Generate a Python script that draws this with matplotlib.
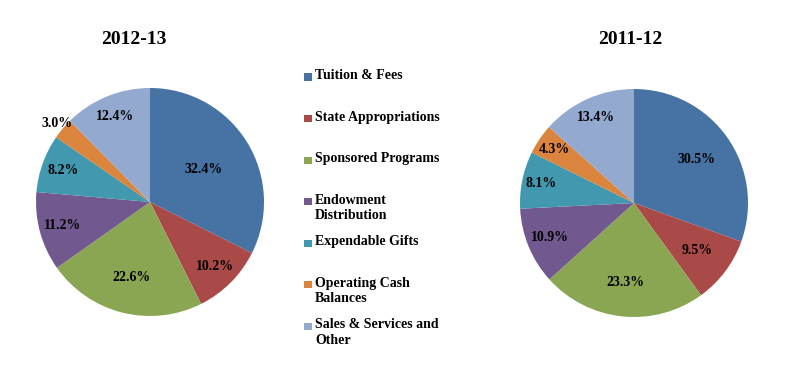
import numpy as np
import matplotlib
matplotlib.use("Agg")
import matplotlib.pyplot as plt
from matplotlib.patches import Rectangle

categories = [
    "Tuition & Fees",
    "State Appropriations",
    "Sponsored Programs",
    "Endowment\nDistribution",
    "Expendable Gifts",
    "Operating Cash\nBalances",
    "Sales & Services and\nOther",
]
share_2012_13 = [32.4, 10.2, 22.6, 11.2, 8.2, 3.0, 12.4]
share_2011_12 = [30.5, 9.5, 23.3, 10.9, 8.1, 4.3, 13.4]
colors = ["#4672A4", "#A94A48", "#8AA653", "#71588F", "#4198AF", "#DB843D", "#93A9CF"]

# distance of each percentage label from the centre (fraction of radius)
label_r_1213 = [0.55, 0.80, 0.68, 0.79, 0.81, 1.07, 0.81]
label_r_1112 = [0.67, 0.69, 0.70, 0.80, 0.83, 0.84, 0.82]

plt.rcParams["font.family"] = ["Liberation Serif", "DejaVu Serif"]
plt.rcParams["font.weight"] = "bold"

W, H = 785, 388
fig = plt.figure(figsize=(W / 100, H / 100), dpi=100)
fig.patch.set_facecolor("white")


def draw_pie(cx, cy, r, values, label_r, title, tx):
    ax = fig.add_axes([(cx - r) / W, (H - cy - r) / H, 2 * r / W, 2 * r / H])
    wedges, _ = ax.pie(values, colors=colors, startangle=90, counterclock=False,
                       radius=1.0, wedgeprops=dict(linewidth=0))
    for w, v, d in zip(wedges, values, label_r):
        ang = np.deg2rad((w.theta1 + w.theta2) / 2)
        ax.text(d * np.cos(ang), d * np.sin(ang), f"{v:.1f}%", ha="center",
                va="center", fontsize=10, fontweight="bold", color="black")
    ax.set_xlim(-1, 1)
    ax.set_ylim(-1, 1)
    ax.set_aspect("equal")
    ax.axis("off")
    fig.text(tx / W, 1 - 39 / H, title, ha="center", va="center",
             fontsize=14, fontweight="bold")


draw_pie(150, 202, 114, share_2012_13, label_r_1213, "2012-13", 134)
draw_pie(634, 203, 114, share_2011_12, label_r_1112, "2011-12", 630)

# legend between the two pies
legend_top = 77
legend_step = 41.5
for i, (name, col) in enumerate(zip(categories, colors)):
    y = legend_top + i * legend_step
    fig.patches.append(Rectangle((304 / W, 1 - (y + 3.5) / H), 8 / W, 7 / H,
                                 transform=fig.transFigure, facecolor=col,
                                 edgecolor="none"))
    fig.text(315 / W, 1 - (y - 8) / H, name, ha="left", va="top",
             fontsize=10, fontweight="bold", linespacing=1.25)

fig.savefig("out.png", dpi=100)
